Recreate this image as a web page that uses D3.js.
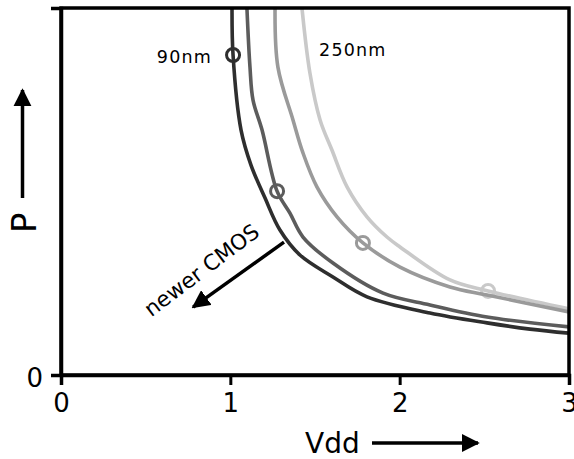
<!DOCTYPE html>
<html>
<head>
<meta charset="utf-8">
<script src="https://cdn.jsdelivr.net/npm/d3@7"></script>
<style>
  body { margin: 0 ; background: #fff ; }
  svg { display: block ; font-family: "DejaVu Sans", sans-serif ; }
</style>
</head>
<body>
<div id="chart"></div>
<script>

const viewWidth = 574 ;
const viewHeight = 459 ;

// curves, from smallest node (darkest) to largest node (lightest)
const seriesNames = [ "90nm", "", "", "250nm" ] ;
const seriesColors = [ "#2e2e2e", "#5c5c5c", "#9a9a9a", "#c9c9c9" ] ;

const vdd90 = [ 1.010, 1.016, 1.063, 1.122, 1.205, 1.293, 1.411, 1.606, 1.807, 2.179, 2.516, 2.770, 3.0 ] ;
const p90   = [ 10.0, 8.72, 6.68, 5.72, 4.82, 3.95, 3.27, 2.67, 2.13, 1.69, 1.42, 1.25, 1.14 ] ;

const vdd130 = [ 1.098, 1.116, 1.134, 1.187, 1.276, 1.352, 1.429, 1.606, 1.902, 2.179, 2.516, 3.0 ] ;
const p130   = [ 10.0, 8.39, 7.49, 6.68, 5.01, 4.41, 3.76, 3.05, 2.23, 1.91, 1.58, 1.31 ] ;

const vdd180 = [ 1.264, 1.281, 1.370, 1.429, 1.512, 1.630, 1.783, 2.002, 2.297, 2.516, 3.0 ] ;
const p180   = [ 10.0, 8.39, 6.95, 6.05, 5.12, 4.31, 3.60, 2.94, 2.40, 2.18, 1.72 ] ;

const vdd250 = [ 1.423, 1.470, 1.530, 1.600, 1.690, 1.807, 1.925, 2.002, 2.297, 2.522, 3.0 ] ;
const p250   = [ 10.0, 8.23, 6.95, 6.13, 5.12, 4.31, 3.76, 3.49, 2.59, 2.29, 1.80 ] ;

// operating point circles
const markVdd = [ 1.016, 1.276, 1.783, 2.522 ] ;
const markP   = [ 8.72, 5.01, 3.60, 2.29 ] ;

const xTicks = [ 0, 1, 2, 3 ] ;
const yTicks = [ 0 ] ;

const margin = { top: 8, right: 5, bottom: 84, left: 61 } ;
const w = viewWidth - margin.left - margin.right ;
const h = viewHeight - margin.top - margin.bottom ;

const svg = d3.select( "#chart" ).append( "svg" )
	.attr( "width", viewWidth )
	.attr( "height", viewHeight ) ;

const g = svg.append( "g" ).attr( "transform", "translate(" + margin.left + "," + margin.top + ")" ) ;

const x = d3.scaleLinear().domain( [ 0, 3 ] ).range( [ 0, w ] ) ;
const y = d3.scaleLinear().domain( [ 0, 10 ] ).range( [ h, 0 ] ) ;

const defs = svg.append( "defs" ) ;
defs.append( "clipPath" ).attr( "id", "plot" )
	.append( "rect" ).attr( "width", w ).attr( "height", h ) ;

function arrowHead( id ) {
	defs.append( "marker" )
		.attr( "id", id )
		.attr( "viewBox", "0 0 10 10" )
		.attr( "refX", 9 ).attr( "refY", 5 )
		.attr( "markerWidth", 5.2 ).attr( "markerHeight", 5.2 )
		.attr( "markerUnits", "strokeWidth" )
		.attr( "orient", "auto" )
		.append( "path" ).attr( "d", "M0,0 L10,5 L0,10 Z" ).attr( "fill", "#000" ) ;
}
arrowHead( "arr" ) ;

var seriesData = [
	d3.zip( vdd90, p90 ),
	d3.zip( vdd130, p130 ),
	d3.zip( vdd180, p180 ),
	d3.zip( vdd250, p250 )
] ;

const line = d3.line()
	.x( function(d) { return x( d[0] ) ; } )
	.y( function(d) { return y( d[1] ) ; } )
	.curve( d3.curveCatmullRom.alpha( 0.5 ) ) ;

const plot = g.append( "g" ).attr( "clip-path", "url(#plot)" ) ;

// draw lightest first so darker curves sit on top
for( var i=seriesData.length-1 ; i>=0 ; i-- ) {
	plot.append( "path" )
		.datum( seriesData[i] )
		.attr( "d", line )
		.attr( "fill", "none" )
		.attr( "stroke", seriesColors[i] )
		.attr( "stroke-width", 3.6 )
		.attr( "stroke-linejoin", "round" )
		.attr( "stroke-linecap", "round" ) ;
	plot.append( "circle" )
		.attr( "cx", x( markVdd[i] ) )
		.attr( "cy", y( markP[i] ) )
		.attr( "r", 6.5 )
		.attr( "fill", "none" )
		.attr( "stroke", seriesColors[i] )
		.attr( "stroke-width", 3 ) ;
}

// frame
g.append( "rect" )
	.attr( "width", w ).attr( "height", h )
	.attr( "fill", "none" )
	.attr( "stroke", "#000" )
	.attr( "stroke-width", 3.5 ) ;

const xAxis = g.append( "g" )
	.attr( "transform", "translate(0," + h + ")" )
	.call( d3.axisBottom( x ).tickValues( xTicks ).tickFormat( d3.format( "d" ) ).tickSize( 10 ).tickPadding( 9 ) ) ;

const yAxis = g.append( "g" )
	.call( d3.axisLeft( y ).tickValues( yTicks ).tickSize( 10 ).tickPadding( 8 ) ) ;

[ xAxis, yAxis ].forEach( function(a) {
	a.select( ".domain" ).attr( "stroke-width", 3.5 ) ;
	a.selectAll( ".tick line" ).attr( "stroke-width", 3 ) ;
	a.selectAll( "text" ).attr( "font-size", 26 ).attr( "font-family", "DejaVu Sans" ).attr( "fill", "#000" ) ;
} ) ;
yAxis.selectAll( "text" ).attr( "dy", "0.45em" ) ;

// series labels
g.append( "text" )
	.attr( "x", x( 0.892 ) ).attr( "y", y( 8.50 ) )
	.attr( "text-anchor", "end" )
	.attr( "font-size", 17.5 )
	.attr( "letter-spacing", 1.2 )
	.text( seriesNames[0] ) ;

g.append( "text" )
	.attr( "x", x( 1.524 ) ).attr( "y", y( 8.69 ) )
	.attr( "font-size", 17.5 )
	.attr( "letter-spacing", 1.2 )
	.text( seriesNames[3] ) ;

// "newer CMOS" arrow
g.append( "line" )
	.attr( "x1", x( 1.317 ) ).attr( "y1", y( 3.62 ) )
	.attr( "x2", x( 0.780 ) ).attr( "y2", y( 1.85 ) )
	.attr( "stroke", "#000" )
	.attr( "stroke-width", 3.5 )
	.attr( "marker-end", "url(#arr)" ) ;

g.append( "text" )
	.attr( "transform", "translate(" + x( 0.830 ) + "," + y( 2.86 ) + ") rotate(-37)" )
	.attr( "text-anchor", "middle" )
	.attr( "dy", "0.35em" )
	.attr( "font-size", 21.5 )
	.text( "newer CMOS" ) ;

// axis titles with arrows
svg.append( "text" )
	.attr( "x", 305 ).attr( "y", 453 )
	.attr( "font-size", 28 )
	.text( "Vdd" ) ;
svg.append( "line" )
	.attr( "x1", 372 ).attr( "y1", 443 ).attr( "x2", 478 ).attr( "y2", 443 )
	.attr( "stroke", "#000" ).attr( "stroke-width", 3.5 )
	.attr( "marker-end", "url(#arr)" ) ;

svg.append( "text" )
	.attr( "transform", "translate(36,233) rotate(-90)" )
	.attr( "font-size", 34 )
	.text( "P" ) ;
svg.append( "line" )
	.attr( "x1", 22.5 ).attr( "y1", 198 ).attr( "x2", 22.5 ).attr( "y2", 90 )
	.attr( "stroke", "#000" ).attr( "stroke-width", 3.5 )
	.attr( "marker-end", "url(#arr)" ) ;

</script>
</body>
</html>
